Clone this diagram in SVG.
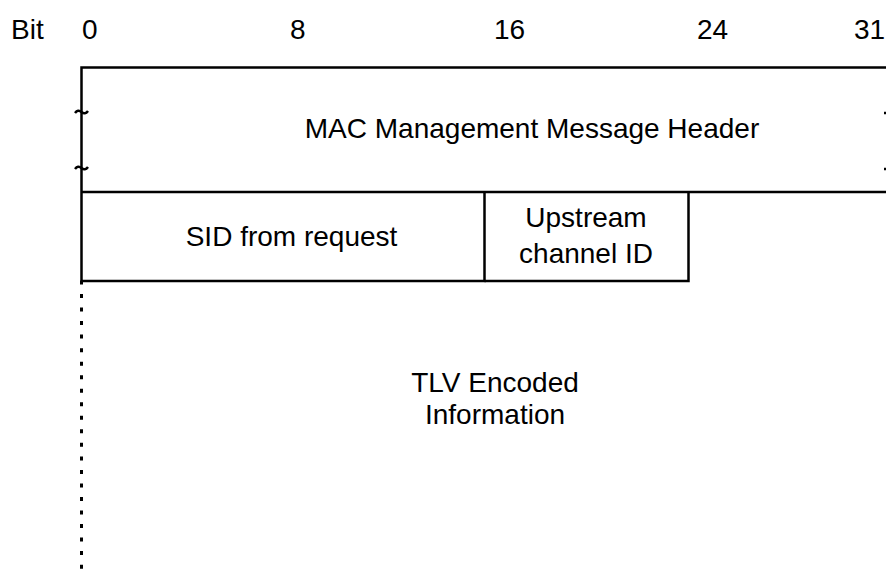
<svg xmlns="http://www.w3.org/2000/svg" width="886" height="577" viewBox="0 0 886 577">
<style>
text{font-family:"Liberation Sans",Arial,sans-serif;font-size:28px;fill:#000}
.c{text-anchor:middle}
.b{fill:none;stroke:#000;stroke-width:2.5}
</style>
<rect width="886" height="577" fill="#fff"/>
<g id="ruler">
<text x="11" y="39">Bit</text>
<text x="82" y="39">0</text>
<text x="290" y="39">8</text>
<text x="494" y="39">16</text>
<text x="697" y="39">24</text>
<text x="854" y="39">31</text>
</g>
<g id="header">
<path class="b" d="M892 67.5H81.5V192" stroke-width="3"/>
<path class="b" d="M75 113q3-4 6.5-1t6.5-1M75 169q3-4 6.5-1t6.5-1"/>
<path class="b" d="M884 113h4M884 169h4"/>
<text class="c" x="532" y="138">MAC Management Message Header</text>
</g>
<g id="sid">
<path class="b" d="M81.5 192H892M81.5 192V281H484.5V192"/>
<text class="c" x="291.5" y="246">SID from request</text>
</g>
<g id="upstream">
<path class="b" d="M484.5 281H688.5V192"/>
<text class="c" x="586" y="227">Upstream</text>
<text class="c" x="586" y="263">channel ID</text>
</g>
<g id="tlv">
<text class="c" x="495" y="392">TLV Encoded</text>
<text class="c" x="495" y="424">Information</text>
</g>
<g id="connectors">
<line x1="81.5" y1="280.5" x2="81.5" y2="577" stroke="#000" stroke-width="3" stroke-dasharray="4 9.53"/>
</g>
</svg>
